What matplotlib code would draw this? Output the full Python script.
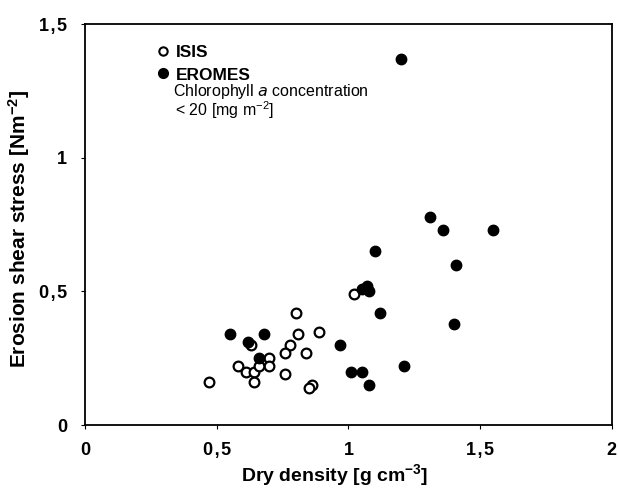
import numpy as np
import matplotlib.pyplot as plt
from matplotlib.lines import Line2D

plt.rcParams['font.family'] = ['Liberation Sans', 'DejaVu Sans']
plt.rcParams['mathtext.default'] = 'regular'

# ISIS (open circles)
isis_x = [0.80, 0.81, 0.89, 0.78, 0.76, 0.84, 0.70, 0.70, 0.76, 0.58,
          0.61, 0.64, 0.66, 0.64, 0.47, 0.86, 0.85, 0.63, 1.02]
isis_y = [0.42, 0.34, 0.35, 0.30, 0.27, 0.27, 0.25, 0.22, 0.19, 0.22,
          0.20, 0.20, 0.22, 0.16, 0.16, 0.15, 0.14, 0.30, 0.49]

# EROMES (filled circles)
eromes_x = [0.55, 0.68, 0.62, 0.66, 1.05, 1.07, 1.08, 1.12, 0.97, 1.01,
            1.05, 1.08, 1.21, 1.20, 1.31, 1.36, 1.55, 1.41, 1.40, 1.10]
eromes_y = [0.34, 0.34, 0.31, 0.25, 0.51, 0.52, 0.50, 0.42, 0.30, 0.20,
            0.20, 0.15, 0.22, 1.37, 0.78, 0.73, 0.73, 0.60, 0.38, 0.65]

ts = '\u200a'
xticks = [0, 0.5, 1, 1.5, 2]
xticklabels = ['0', '0' + ts + ',' + ts + '5', '1', '1' + ts + ',' + ts + '5', '2']
yticks = [0, 0.5, 1, 1.5]
yticklabels = ['0', '0' + ts + ',' + ts + '5', '1', '1' + ts + ',' + ts + '5']

fig = plt.figure(figsize=(6.18, 4.92), dpi=100)
ax = fig.add_axes([0.1375, 0.136, 0.8525, 0.815])

ax.plot(isis_x, isis_y, 'o', ls='none', ms=7.0, mfc='white', mec='black', mew=1.6)
ax.plot(eromes_x, eromes_y, 'o', ls='none', ms=7.5, mfc='black', mec='black')

ax.set_xlim(0, 2)
ax.set_ylim(0, 1.5)
ax.set_xticks(xticks)
ax.set_xticklabels(xticklabels)
ax.set_yticks(yticks)
ax.set_yticklabels(yticklabels)
ax.tick_params(direction='out', length=3, width=0.8, labelsize=13)
ax.tick_params(axis='x', pad=9)
ax.tick_params(axis='y', pad=10)
for lab in ax.get_xticklabels() + ax.get_yticklabels():
    lab.set_fontweight('bold')
for sp in ax.spines.values():
    sp.set_linewidth(1.3)

ax.set_xlabel('Dry density [g cm$^{-3}$]', fontsize=14, fontweight='bold')
ax.set_ylabel('Erosion shear stress [Nm$^{-2}$]', fontsize=15, fontweight='bold')
ax.xaxis.set_label_coords(0.473, -0.092)
ax.yaxis.set_label_coords(-0.100, 0.489)

handles = [Line2D([], [], marker='o', ls='none', ms=6, mfc='white', mec='black', mew=1.5),
           Line2D([], [], marker='o', ls='none', ms=7, mfc='black', mec='black')]
leg = ax.legend(handles, ['ISIS', 'EROMES'], loc='upper left', bbox_to_anchor=(0.138, 0.948),
                frameon=False, handlelength=0.6, handletextpad=0.45, labelspacing=0.42,
                borderpad=0, borderaxespad=0,
                prop={'weight': 'bold', 'size': 12.5})

ax.text(0.167, 0.820, 'Chlorophyll $\\it{a}$ concentration', transform=ax.transAxes,
        fontsize=11.5, va='baseline', ha='left')
ax.text(0.171, 0.771, '< 20 [mg m$^{-2}$]', transform=ax.transAxes,
        fontsize=11.5, va='baseline', ha='left')

fig.savefig('out.png', dpi=100)
